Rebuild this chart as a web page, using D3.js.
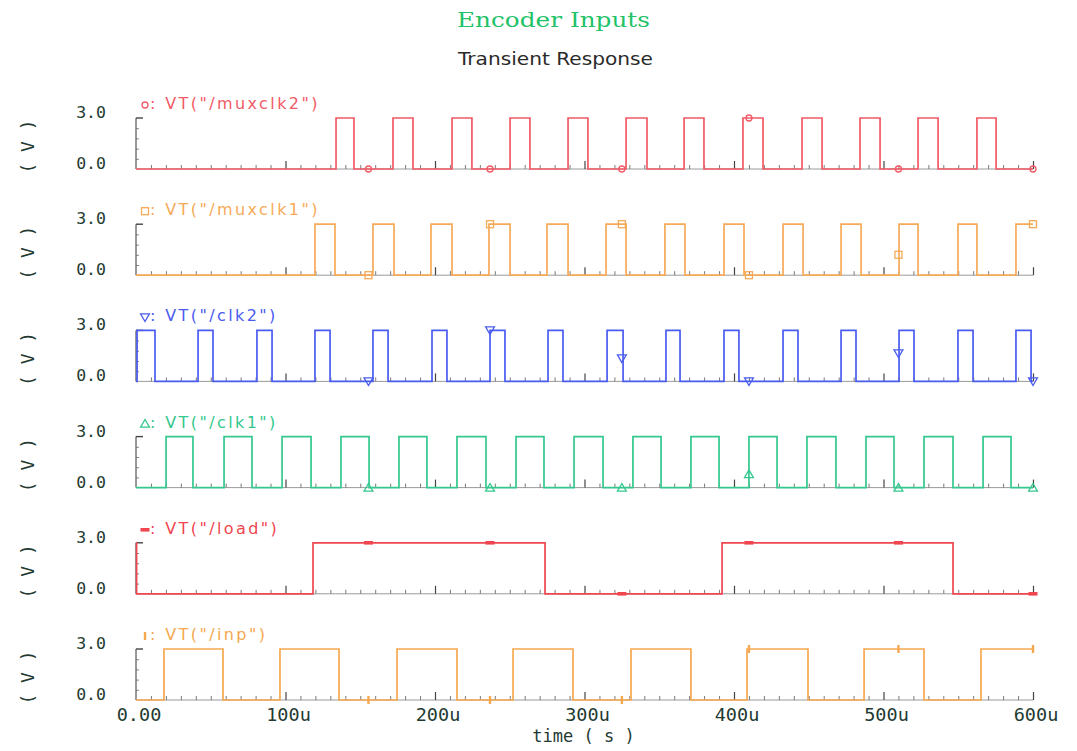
<!DOCTYPE html>
<html>
<head>
<meta charset="utf-8">
<script src="https://cdn.jsdelivr.net/npm/d3@7"></script>
<style>
  html, body { margin: 0; padding: 0; background: #ffffff; }
  svg { display: block; }
</style>
</head>
<body>
<svg id="chart" width="1077" height="751"></svg>
<script>
// ---- Data: transition times (µs) of each logic signal, sampled markers ----
const signalNames = ["muxclk2", "muxclk1", "clk2", "clk1", "load", "inp"];
const startLevels = [0, 0, 0, 0, 3, 0];

const muxclk2Edges = [133.8, 145.8, 171.9, 185.3, 211.4, 224.7, 250.2, 263.5, 289.0, 302.3,
  327.8, 341.8, 366.6, 379.9, 406.0, 419.4, 445.5, 458.9, 484.3, 497.7, 523.1, 536.5, 562.5, 575.3];
const muxclk1Edges = [119.7, 133.1, 158.5, 172.6, 197.3, 211.4, 236.1, 250.2, 274.9, 289.0,
  314.4, 327.8, 353.8, 367.2, 393.3, 406.7, 432.8, 446.2, 471.6, 485.0, 510.4, 523.1, 549.8, 562.5, 588.6];
const clk2Edges = [0.7, 12.7, 41.5, 51.5, 80.9, 91.0, 119.7, 129.8, 158.5, 168.6, 198.0, 208.0,
  236.8, 246.8, 275.6, 285.6, 315.1, 325.8, 354.5, 363.9, 393.3, 403.3, 432.8, 442.8,
  471.6, 481.6, 510.4, 520.4, 549.8, 559.9, 588.6, 598.7];
const clk1Edges = [20.1, 38.1, 58.9, 77.6, 97.7, 117.1, 137.1, 155.9, 175.9, 194.6, 214.7, 234.1,
  254.2, 272.9, 293.0, 312.4, 332.4, 351.2, 371.2, 390.0, 410.0, 428.8, 448.8, 468.2,
  488.3, 507.0, 527.1, 546.5, 566.6, 585.3];
const loadEdges = [0.4, 118.4, 273.6, 392.0, 546.5];
const inpEdges = [18.7, 58.2, 96.3, 135.8, 174.6, 214.7, 252.2, 292.3, 331.1, 371.2,
  408.7, 449.5, 487.0, 527.1, 565.2];

const markerTimes = [155.5, 236.8, 325, 410, 510, 600];
const muxclk2Markers = [0, 0, 0, 3, 0, 0];
const muxclk1Markers = [0, 3, 3, 0, 1.2, 3];
const clk2Markers = [0, 3, 1.35, 0, 1.65, 0];
const clk1Markers = [0, 0, 0, 0.8, 0, 0];
const loadMarkers = [3, 3, 0, 3, 3, 0];
const inpMarkers = [0, 0, 0, 3, 3, 3];

const timeTicks = [0, 100, 200, 300, 400, 500, 600];
const timeTickLabels = ["0.00", "100u", "200u", "300u", "400u", "500u", "600u"];
const voltTicks = [0, 3];
const voltTickLabels = ["0.0", "3.0"];

// ---- Styling ----
const colors = ["#f25a66", "#f6aa58", "#4a5cf0", "#34c88e", "#ef4650", "#f6a850"];
const symbols = ["circle", "square", "triDown", "triUp", "dash", "bar"];
const axisText = "#233a31";

const svg = d3.select("#chart");
svg.append("rect").attr("width", 1077).attr("height", 751).attr("fill", "#ffffff");

const x = d3.scaleLinear().domain([0, 600]).range([136, 1033]);
const panelTop0 = 118, panelStep = 106.2, panelH = 51;

// Titles
svg.append("text")
  .attr("x", 553.5).attr("y", 27)
  .attr("text-anchor", "middle")
  .attr("font-family", "'DejaVu Serif', 'Liberation Serif', serif")
  .attr("font-size", 20)
  .attr("textLength", 193).attr("lengthAdjust", "spacingAndGlyphs")
  .attr("fill", "#22c268")
  .text("Encoder Inputs");
svg.append("text")
  .attr("x", 555.5).attr("y", 65)
  .attr("text-anchor", "middle")
  .attr("font-family", "'DejaVu Sans', sans-serif")
  .attr("font-size", 17)
  .attr("textLength", 195).attr("lengthAdjust", "spacingAndGlyphs")
  .attr("fill", "#2a2a2a")
  .text("Transient Response");

function drawSymbol(g, kind, cx, cy, color) {
  if (kind === "circle") {
    g.append("circle").attr("cx", cx).attr("cy", cy).attr("r", 3)
      .attr("fill", "none").attr("stroke", color).attr("stroke-width", 1.3);
  } else if (kind === "square") {
    g.append("rect").attr("x", cx - 3.5).attr("y", cy - 3.5).attr("width", 7).attr("height", 7)
      .attr("fill", "none").attr("stroke", color).attr("stroke-width", 1.3);
  } else if (kind === "triDown" || kind === "triUp") {
    g.append("path")
      .attr("d", d3.symbol().type(d3.symbolTriangle).size(34)())
      .attr("transform", `translate(${cx},${cy + (kind === "triDown" ? -1 : 1)}) rotate(${kind === "triDown" ? 180 : 0})`)
      .attr("fill", "none").attr("stroke", color).attr("stroke-width", 1.3);
  } else if (kind === "dash") {
    g.append("rect").attr("x", cx - 4.5).attr("y", cy - 1.8).attr("width", 9).attr("height", 3.6)
      .attr("fill", color);
  } else if (kind === "bar") {
    g.append("rect").attr("x", cx - 1.2).attr("y", cy - 4).attr("width", 2.4).attr("height", 8)
      .attr("fill", color);
  }
}

const edgesAll = [muxclk2Edges, muxclk1Edges, clk2Edges, clk1Edges, loadEdges, inpEdges];
const markersAll = [muxclk2Markers, muxclk1Markers, clk2Markers, clk1Markers, loadMarkers, inpMarkers];

signalNames.forEach((name, i) => {
  const top = panelTop0 + i * panelStep;
  const y = d3.scaleLinear().domain([0, 3]).range([top + panelH, top]);
  const g = svg.append("g");
  const color = colors[i];

  // Volt unit label, rotated
  g.append("text")
    .attr("transform", `translate(34,${top + panelH / 2 + 3}) rotate(-90)`)
    .attr("text-anchor", "middle")
    .attr("font-family", "'DejaVu Sans Mono', monospace")
    .attr("font-size", 18)
    .attr("fill", axisText)
    .text("( V )");

  // Volt tick labels
  voltTicks.forEach((v, k) => {
    g.append("text")
      .attr("x", 106).attr("y", y(v))
      .attr("text-anchor", "end")
      .attr("font-family", "'DejaVu Sans Mono', monospace")
      .attr("font-size", 16.5)
      .attr("fill", axisText)
      .text(voltTickLabels[k]);
  });

  // Vertical axis with minor ticks
  const yAxis = d3.axisRight(y).tickValues([0.6, 1.2, 1.8, 2.4]).tickSize(3).tickFormat("");
  const ya = g.append("g").attr("transform", `translate(${x(0)},0)`).call(yAxis);
  ya.select(".domain").remove();
  ya.selectAll("line").attr("stroke", "#8a8a8a");
  g.append("line").attr("x1", x(0)).attr("x2", x(0)).attr("y1", y(3)).attr("y2", y(0))
    .attr("stroke", "#555").attr("stroke-width", 1.2);
  g.append("line").attr("x1", x(0)).attr("x2", x(0) + 7).attr("y1", y(3)).attr("y2", y(3))
    .attr("stroke", "#444").attr("stroke-width", 1.4);

  // Time axis along the baseline: minor ticks each 10u, major each 100u
  const minor = d3.range(10, 601, 10).filter(t => t % 100 !== 0);
  const xMinor = d3.axisTop(x).tickValues(minor).tickSize(4).tickFormat("");
  const xm = g.append("g").attr("transform", `translate(0,${y(0)})`).call(xMinor);
  xm.select(".domain").attr("stroke", "#9a9a9a").attr("d", `M${x(0)},0H${x(600)}`);
  xm.selectAll("line").attr("stroke", "#7a7a7a");
  const xMajor = d3.axisTop(x).tickValues(timeTicks.slice(1)).tickSize(8).tickFormat("");
  const xM = g.append("g").attr("transform", `translate(0,${y(0)})`).call(xMajor);
  xM.select(".domain").remove();
  xM.selectAll("line").attr("stroke", "#444").attr("stroke-width", 1.2);

  // Waveform as a step line
  const pts = [{ t: 0, v: startLevels[i] }];
  let level = startLevels[i];
  edgesAll[i].forEach(e => { level = level > 0 ? 0 : 3; pts.push({ t: e, v: level }); });
  pts.push({ t: 600, v: level });
  g.append("path")
    .datum(pts)
    .attr("fill", "none")
    .attr("stroke", color)
    .attr("stroke-width", 1.7)
    .attr("d", d3.line().x(d => x(d.t)).y(d => y(d.v)).curve(d3.curveStepAfter));

  // Sample markers
  markerTimes.forEach((t, k) => drawSymbol(g, symbols[i], x(t), y(markersAll[i][k]), color));

  // Legend
  drawSymbol(g, symbols[i], 145, top - 13, color);
  g.append("text")
    .attr("x", 150).attr("y", top - 9)
    .attr("font-family", "'DejaVu Sans', sans-serif")
    .attr("font-size", 16)
    .attr("letter-spacing", 2.4)
    .attr("fill", color)
    .text(`: VT("/${name}")`);

  // Time tick labels below the last panel
  if (i === signalNames.length - 1) {
    timeTicks.forEach((t, k) => {
      g.append("text")
        .attr("x", x(t) + 3).attr("y", 721)
        .attr("text-anchor", "middle")
        .attr("font-family", "'DejaVu Sans Mono', monospace")
        .attr("font-size", 18.5)
        .attr("fill", axisText)
        .text(timeTickLabels[k]);
    });
    g.append("text")
      .attr("x", (x(0) + x(600)) / 2 - 1).attr("y", 742)
      .attr("text-anchor", "middle")
      .attr("font-family", "'DejaVu Sans Mono', monospace")
      .attr("font-size", 17)
      .attr("fill", axisText)
      .text("time ( s )");
  }
});
</script>
</body>
</html>
